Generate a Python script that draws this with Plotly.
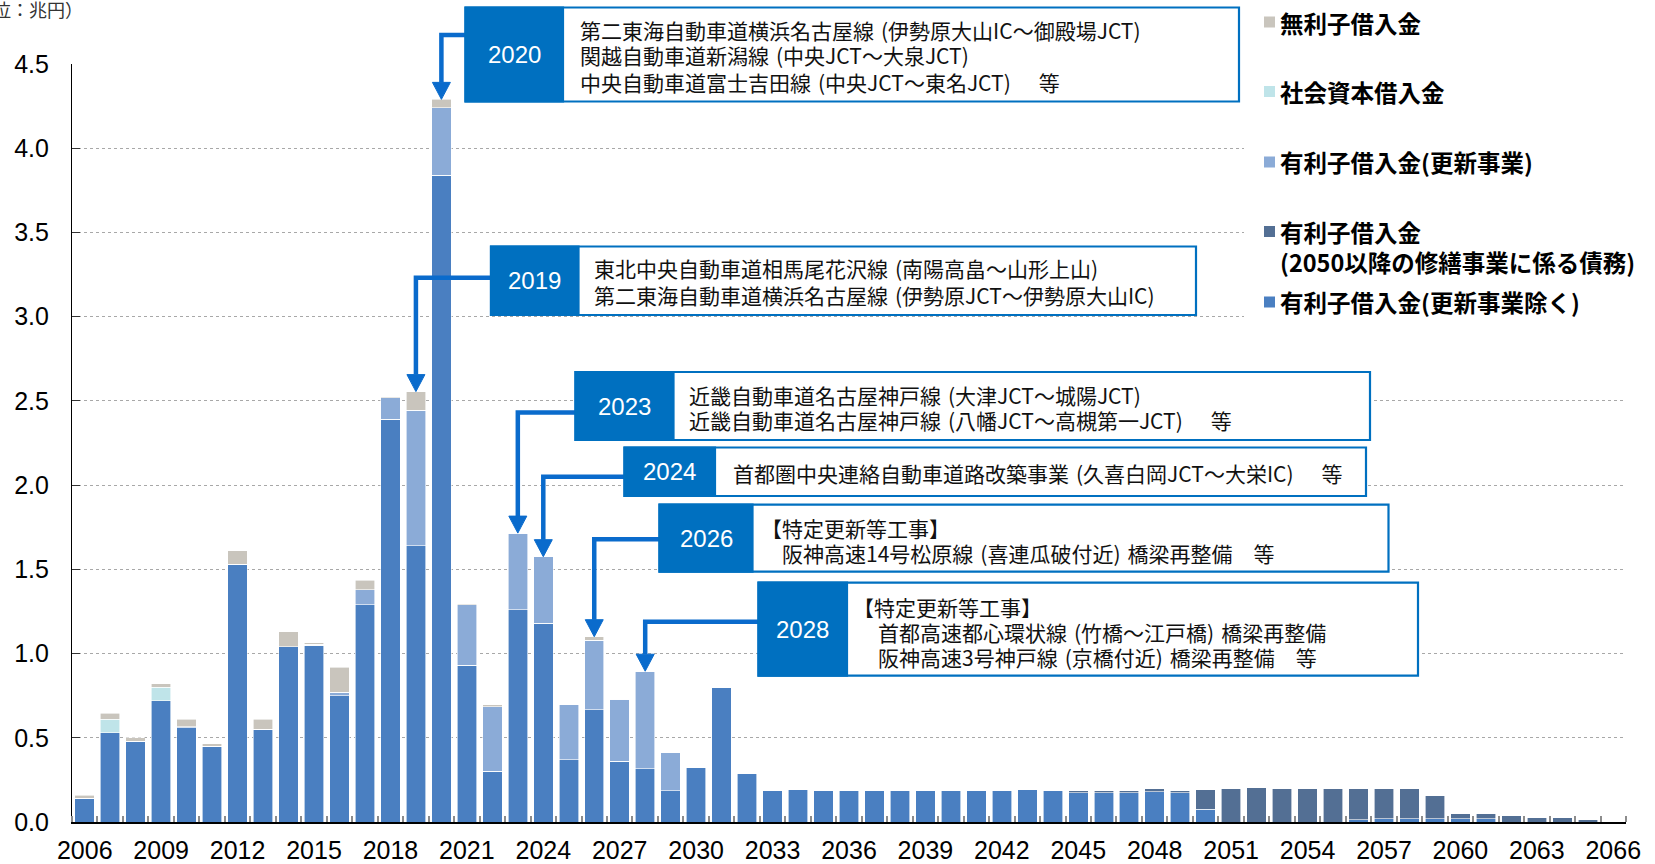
import plotly.graph_objects as go

# ---------------- data ----------------
years = list(range(2006, 2067))

# 有利子借入金（更新事業除く）
excl = [0.14, 0.53, 0.48, 0.72, 0.56, 0.45, 1.53, 0.55, 1.04, 1.05,
        0.75, 1.29, 2.39, 1.64, 3.84, 0.93, 0.30, 1.26, 1.18, 0.37,
        0.665, 0.36, 0.315, 0.185, 0.325, 0.80, 0.29, 0.19, 0.195, 0.19,
        0.19, 0.19, 0.19, 0.19, 0.19, 0.19, 0.19, 0.195, 0.19, 0.175,
        0.175, 0.175, 0.18, 0.175, 0.075, 0, 0, 0, 0, 0,
        0.014, 0.02, 0.02, 0.02, 0.02, 0.02, 0, 0, 0, 0,
        0]
# 有利子借入金（2050以降の修繕事業に係る債務）
post2050 = [0, 0, 0, 0, 0, 0, 0, 0, 0, 0,
            0, 0, 0, 0, 0, 0, 0, 0, 0, 0,
            0, 0, 0, 0, 0, 0, 0, 0, 0, 0,
            0, 0, 0, 0, 0, 0, 0, 0, 0, 0.015,
            0.015, 0.015, 0.016, 0.015, 0.12, 0.20, 0.205, 0.20, 0.20, 0.20,
            0.182, 0.18, 0.18, 0.14, 0.028, 0.028, 0.036, 0.028, 0.028, 0.016,
            0]
# 有利子借入金（更新事業）
renewal = [0, 0, 0, 0, 0.005, 0, 0, 0, 0, 0.005,
           0.02, 0.09, 0.13, 0.805, 0.40, 0.36, 0.385, 0.455, 0.395, 0.325,
           0.415, 0.37, 0.58, 0.225, 0, 0, 0, 0, 0, 0,
           0, 0, 0, 0, 0, 0, 0, 0, 0, 0,
           0, 0, 0, 0, 0, 0, 0, 0, 0, 0,
           0, 0, 0, 0, 0, 0, 0, 0, 0, 0,
           0]
# 社会資本借入金
social = [0, 0.08, 0, 0.08, 0, 0, 0, 0, 0, 0] + [0] * 51
# 無利子借入金
nointerest = [0.02, 0.035, 0.02, 0.02, 0.045, 0.015, 0.08, 0.06, 0.09, 0.01,
              0.15, 0.055, 0.005, 0.11, 0.05, 0.005, 0.01, 0, 0, 0,
              0.02] + [0] * 40

series_names = ["有利子借入金(更新事業除く)",
                "有利子借入金(2050以降の修繕事業に係る債務)",
                "有利子借入金(更新事業)",
                "社会資本借入金",
                "無利子借入金"]
series_values = [excl, post2050, renewal, social, nointerest]
series_colors = ["#4A7FC1", "#536F94", "#8BABD7", "#BFE4E9", "#C9C5BD"]

xtick_labels = [str(y) for y in range(2006, 2067, 3)]

# callouts: year, lines of text
callout_years = [2020, 2019, 2023, 2024, 2026, 2028]
callout_texts = [
    ["第二東海自動車道横浜名古屋線(伊勢原大山IC～御殿場JCT)",
     "関越自動車道新潟線(中央JCT～大泉JCT)",
     "中央自動車道富士吉田線(中央JCT～東名JCT)　等"],
    ["東北中央自動車道相馬尾花沢線(南陽高畠～山形上山)",
     "第二東海自動車道横浜名古屋線(伊勢原JCT～伊勢原大山IC)"],
    ["近畿自動車道名古屋神戸線(大津JCT～城陽JCT)",
     "近畿自動車道名古屋神戸線(八幡JCT～高槻第一JCT)　等"],
    ["首都圏中央連絡自動車道路改築事業(久喜白岡JCT～大栄IC)　等"],
    ["【特定更新等工事】",
     "阪神高速14号松原線(喜連瓜破付近)橋梁再整備　等"],
    ["【特定更新等工事】",
     "首都高速都心環状線(竹橋～江戸橋)橋梁再整備",
     "阪神高速3号神戸線(京橋付近)橋梁再整備　等"],
]

# ---------------- layout geometry (pixels) ----------------
FIG_W, FIG_H = 1655, 864
ML, MR, MT, MB = 72, 29, 64, 42
PW, PH = FIG_W - ML - MR, FIG_H - MT - MB
YMAX = 4.5
X0, X1 = years[0] - 0.5, years[-1] + 0.5


def PX(p):
    return (p - ML) / PW


def PY(p):
    return (FIG_H - MB - p) / PH


def XP(year):
    return (year - X0) / (X1 - X0)


def spaced(txt):
    # half-width parentheses with a little air around them, as in the reference
    return txt.replace("(", "\u2004(").replace(")", ")\u2004")


# box geometry: left, split, right, top, bottom, arrow-y ; text left positions & line y
boxes = [
    (465.5, 563, 1239, 7.5, 101.5, 35, [(579, 30), (579, 55.5), (579, 81.5)]),
    (491, 578.5, 1196, 246.5, 315, 277.7, [(593, 268), (593, 295)]),
    (575.5, 673.5, 1370, 372, 440, 412.5, [(688, 395), (688, 420)]),
    (624.5, 715, 1366, 447.5, 496, 476.7, [(732, 472.5)]),
    (659.5, 752.5, 1388.5, 504.7, 571.7, 539.3, [(760, 528), (781, 553)]),
    (758.5, 847, 1418, 582.7, 675.7, 621.7, [(852, 606.7), (876.5, 631.7), (876.5, 656.7)]),
]

BOX_BLUE = "#0070C0"
ARROW_BLUE = "#0A6BCC"
TEXT_FONT = "Noto Sans CJK JP"
NUM_FONT = "Liberation Sans, Arial, sans-serif"

fig = go.Figure()
for name, vals, col in zip(series_names, series_values, series_colors):
    fig.add_trace(go.Bar(
        x=years, y=vals, name=name,
        marker=dict(color=col, line=dict(color="rgba(255,255,255,0.75)", width=0.8)),
        hoverinfo="x+y+name",
    ))

totals = [sum(v) for v in zip(*series_values)]

shapes = []
annotations = []

# legend background (white) covering grid
shapes.append(dict(type="rect", xref="paper", yref="paper",
                   x0=PX(1244), x1=PX(1628), y0=PY(330), y1=PY(0),
                   fillcolor="white", line=dict(width=0), layer="above"))

# callout boxes and arrows
for yr, texts, (bl, bm, br, bt, bb, ay, tpos) in zip(callout_years, callout_texts, boxes):
    total = totals[years.index(yr)]
    xb = XP(yr)
    tip = total / YMAX
    hh = 17 / PH
    hw = 9 / PW
    shapes.append(dict(type="path", xref="paper", yref="paper",
                       path=f"M {PX(bl)},{PY(ay)} L {xb},{PY(ay)} L {xb},{tip + hh}",
                       line=dict(color=ARROW_BLUE, width=4.5), layer="above"))
    shapes.append(dict(type="path", xref="paper", yref="paper",
                       path=f"M {xb - hw},{tip + hh} L {xb + hw},{tip + hh} L {xb},{tip} Z",
                       fillcolor=ARROW_BLUE, line=dict(color=ARROW_BLUE, width=1), layer="above"))
    shapes.append(dict(type="rect", xref="paper", yref="paper",
                       x0=PX(bl), x1=PX(br), y0=PY(bb), y1=PY(bt),
                       fillcolor="white", line=dict(color=BOX_BLUE, width=2.2), layer="above"))
    shapes.append(dict(type="rect", xref="paper", yref="paper",
                       x0=PX(bl), x1=PX(bm), y0=PY(bb), y1=PY(bt),
                       fillcolor=BOX_BLUE, line=dict(color=BOX_BLUE, width=2.2), layer="above"))
    annotations.append(dict(xref="paper", yref="paper", x=PX((bl + bm) / 2), y=PY((bt + bb) / 2),
                            text=str(yr), showarrow=False, xanchor="center", yanchor="middle",
                            font=dict(family=NUM_FONT, size=24, color="white")))
    for txt, (tx, ty) in zip(texts, tpos):
        annotations.append(dict(xref="paper", yref="paper", x=PX(tx), y=PY(ty),
                                text=spaced(txt), showarrow=False, xanchor="left", yanchor="middle",
                                borderpad=0,
                                font=dict(family=TEXT_FONT, size=21, color="#111111")))

# custom legend (top -> bottom)
legend_items = [
    (4, [("無利子借入金", 22.5)], 22),
    (3, [("社会資本借入金", 92)], 91.5),
    (2, [("有利子借入金(更新事業)", 162)], 162),
    (1, [("有利子借入金", 232), ("(2050以降の修繕事業に係る債務)", 262)], 231.5),
    (0, [("有利子借入金(更新事業除く)", 301.5)], 302),
]
for idx, lines, sy in legend_items:
    shapes.append(dict(type="rect", xref="paper", yref="paper",
                       x0=PX(1264), x1=PX(1275), y0=PY(sy + 5.5), y1=PY(sy - 5.5),
                       fillcolor=series_colors[idx], line=dict(width=0), layer="above"))
    for txt, ty in lines:
        annotations.append(dict(xref="paper", yref="paper", x=PX(1279), y=PY(ty),
                                text=f"<b>{txt}</b>", showarrow=False, xanchor="left", yanchor="middle",
                                borderpad=0,
                                font=dict(family=TEXT_FONT, size=23.5, color="#000000")))

# unit label (partly cut off at the left edge like the reference)
annotations.append(dict(xref="paper", yref="paper", x=PX(-45), y=PY(9),
                        text="（単位：兆円）", showarrow=False, xanchor="left", yanchor="middle",
                        font=dict(family=TEXT_FONT, size=18, color="#333333")))

fig.update_layout(
    width=FIG_W, height=FIG_H,
    margin=dict(l=ML, r=MR, t=MT, b=MB, autoexpand=False),
    barmode="stack", bargap=0.235,
    plot_bgcolor="white", paper_bgcolor="white",
    showlegend=False,
    shapes=shapes, annotations=annotations,
    font=dict(family=NUM_FONT, color="#000000"),
    xaxis=dict(
        range=[X0, X1], tickmode="array",
        tickvals=[int(t) for t in xtick_labels], ticktext=xtick_labels,
        ticks="", showgrid=False, zeroline=False,
        showline=True, linecolor="#000000", linewidth=1.5,
        tickfont=dict(family=NUM_FONT, size=25, color="#000000"),
        ticklabelstandoff=5,
        minor=dict(tick0=X0, dtick=1, ticks="inside", ticklen=6, tickwidth=1.5,
                   tickcolor="#8C8C8C", showgrid=False),
    ),
    yaxis=dict(
        range=[0, YMAX], dtick=0.5, tick0=0, tickformat=".1f",
        ticks="inside", ticklen=8, tickcolor="#333333", tickwidth=1,
        showgrid=True, gridcolor="#A8A8A8", griddash="dot", gridwidth=1,
        zeroline=False, showline=True, linecolor="#000000", linewidth=1.2,
        tickfont=dict(family=NUM_FONT, size=25, color="#000000"),
        ticklabelstandoff=17,
    ),
)

fig.write_html("out.html")
